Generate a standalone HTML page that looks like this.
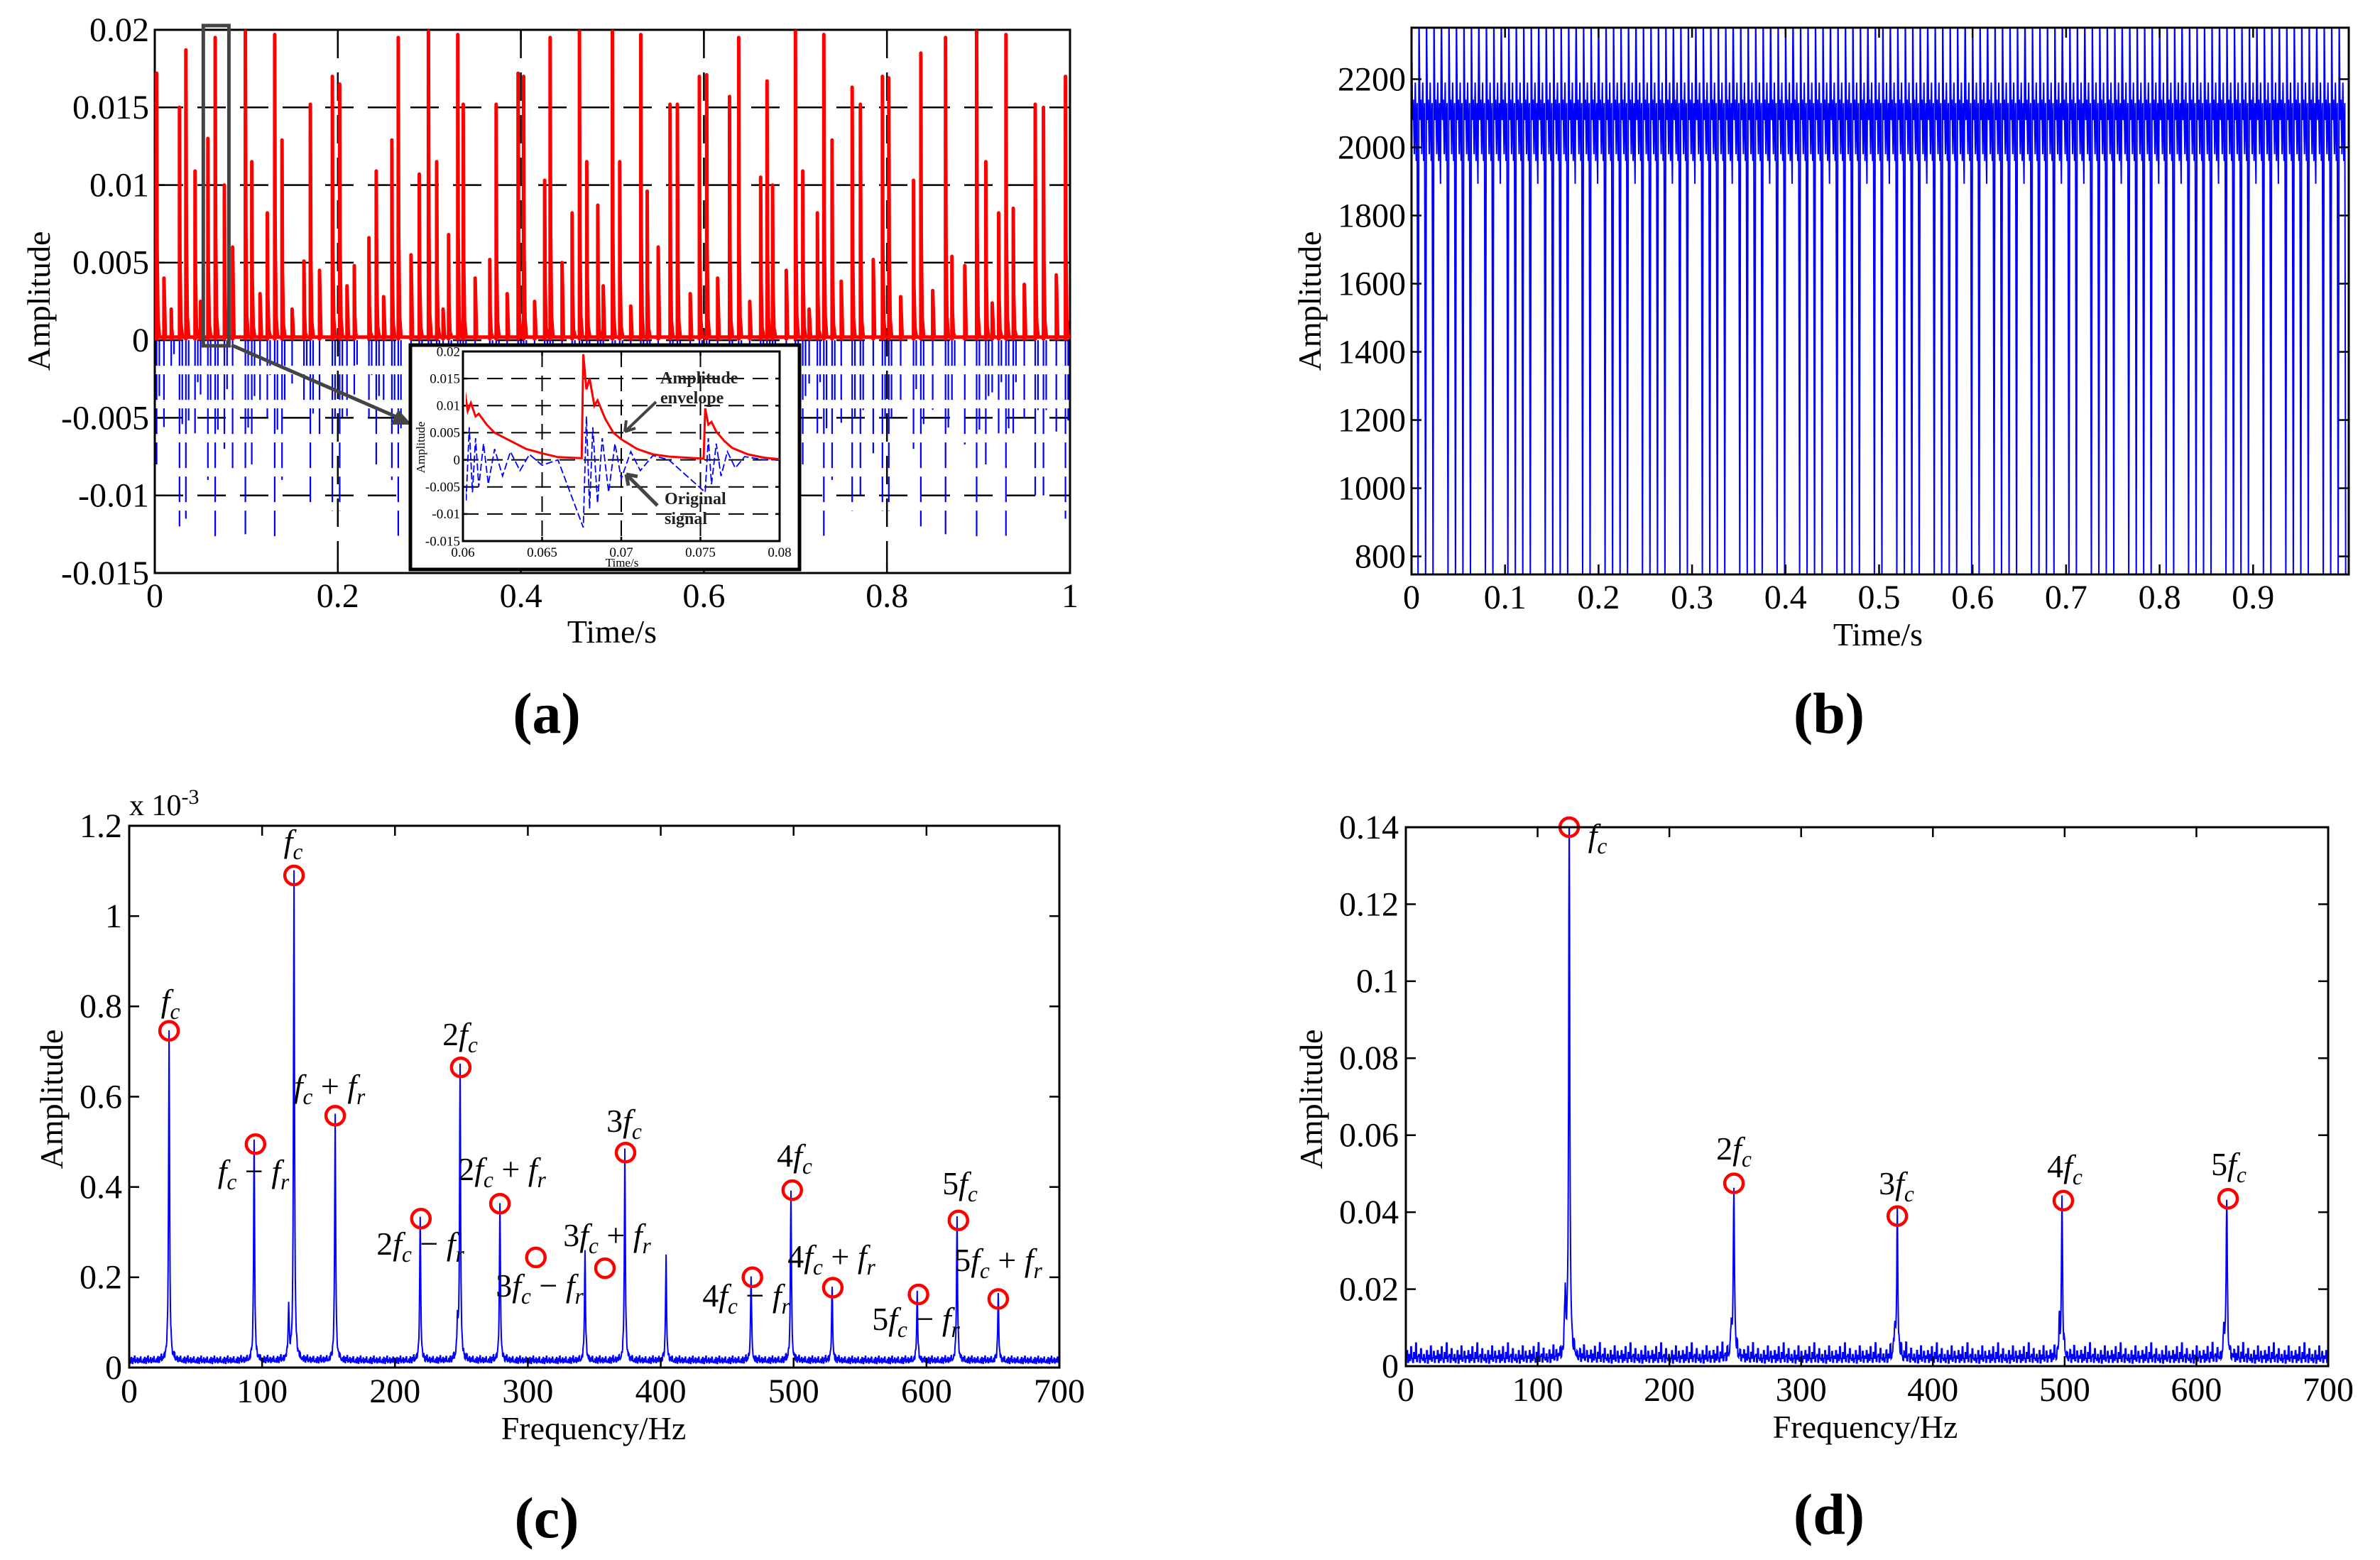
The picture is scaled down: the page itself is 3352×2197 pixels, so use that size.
<!DOCTYPE html>
<html><head><meta charset="utf-8"><title>Signal figure</title>
<style>
html,body{margin:0;padding:0;background:#fff;}
svg{display:block;font-family:"Liberation Serif","DejaVu Serif",serif;}
</style></head>
<body>
<svg id="fig" xmlns="http://www.w3.org/2000/svg" width="3352" height="2197" viewBox="0 0 3352 2197">
<rect x="0" y="0" width="3352" height="2197" fill="#fff"/>
<defs>
<clipPath id="clipA"><rect x="218" y="42" width="1289" height="765"/></clipPath>
<clipPath id="clipB"><rect x="1988" y="39" width="1320" height="770"/></clipPath>
<clipPath id="clipC"><rect x="182" y="1163" width="1310" height="763"/></clipPath>
<clipPath id="clipD"><rect x="1980" y="1165" width="1300" height="759"/></clipPath>
<clipPath id="clipI"><rect x="656" y="495" width="445" height="267"/></clipPath>
</defs>
</svg>
<script>
// ---------- DATA ----------
const aRedT=[0.002,0.018,0.027,0.034,0.044,0.058,0.066,0.076,0.099,0.106,0.123,0.131,0.139,0.163,0.170,0.194,0.202,0.218,0.234,0.242,0.259,0.266,0.289,0.299,0.308,0.321,0.331,0.337,0.366,0.373,0.397,0.403,0.426,0.432,0.456,0.464,0.472,0.484,0.500,0.508,0.531,0.538,0.563,0.571,0.595,0.603,0.628,0.638,0.662,0.669,0.675,0.700,0.708,0.724,0.731,0.740,0.762,0.771,0.795,0.802,0.829,0.837,0.864,0.871,0.898,0.908,0.922,0.930,0.938,0.962,0.971,0.995];
const aRedH=[0.0172,0.002,0.015,0.0187,0.0109,0.013,0.0195,0.010,0.0199,0.0115,0.0082,0.0197,0.0129,0.0051,0.0152,0.017,0.0165,0.0048,0.0066,0.0109,0.0129,0.0195,0.0107,0.0199,0.0115,0.0068,0.0197,0.0152,0.0052,0.0152,0.0172,0.017,0.0103,0.0195,0.0082,0.0199,0.0115,0.0087,0.0199,0.0115,0.0197,0.0096,0.0152,0.0152,0.017,0.0171,0.0157,0.0195,0.0105,0.0167,0.010,0.0199,0.0109,0.0082,0.0197,0.0129,0.0163,0.0152,0.017,0.0169,0.0103,0.0185,0.0195,0.0054,0.0199,0.0115,0.0082,0.0197,0.0085,0.0152,0.015,0.017];
const aBlueD=[-0.008,-0.002,-0.012,-0.0115,-0.006,-0.009,-0.0128,-0.007,-0.0125,-0.008,-0.005,-0.0128,-0.009,-0.004,-0.0105,-0.011,-0.011,-0.0035,-0.005,-0.008,-0.009,-0.0126,-0.007,-0.0128,-0.008,-0.005,-0.0126,-0.010,-0.004,-0.010,-0.0115,-0.011,-0.007,-0.0125,-0.006,-0.0128,-0.008,-0.006,-0.0125,-0.008,-0.0126,-0.007,-0.010,-0.010,-0.011,-0.011,-0.010,-0.0125,-0.007,-0.011,-0.007,-0.0128,-0.008,-0.006,-0.0126,-0.009,-0.011,-0.010,-0.011,-0.011,-0.007,-0.012,-0.0125,-0.004,-0.0128,-0.008,-0.006,-0.0126,-0.006,-0.010,-0.010,-0.0115];
const aMinorT=[0.01,0.05,0.085,0.115,0.15,0.18,0.21,0.25,0.28,0.315,0.35,0.385,0.415,0.445,0.49,0.52,0.55,0.585,0.615,0.65,0.69,0.715,0.75,0.785,0.815,0.85,0.885,0.915,0.95,0.985];
const aMinorH=[0.004,0.0025,0.006,0.003,0.002,0.0045,0.0035,0.0028,0.0055,0.002,0.004,0.003,0.0025,0.005,0.0035,0.0022,0.006,0.003,0.004,0.0025,0.0045,0.002,0.0038,0.0052,0.0028,0.0032,0.0048,0.0024,0.0036,0.0042];
const aXTicks=[0,0.2,0.4,0.6,0.8,1];
const aXTickLabels=["0","0.2","0.4","0.6","0.8","1"];
const aYTicks=[-0.015,-0.01,-0.005,0,0.005,0.01,0.015,0.02];
const aYTickLabels=["-0.015","-0.01","-0.005","0","0.005","0.01","0.015","0.02"];
const iRedT=[0.0600,0.0601,0.0603,0.0605,0.0608,0.0610,0.0615,0.0620,0.0630,0.0640,0.0650,0.0660,0.0675,0.0676,0.0678,0.0680,0.0683,0.0685,0.0690,0.0695,0.0700,0.0710,0.0720,0.0730,0.0752,0.0753,0.0755,0.0757,0.0760,0.0765,0.0770,0.0780,0.0790,0.0800];
const iRedV=[0.0,0.013,0.009,0.0105,0.008,0.0085,0.0065,0.0050,0.0035,0.0020,0.0012,0.0005,0.0003,0.0195,0.013,0.0150,0.010,0.0110,0.0075,0.0050,0.0038,0.0020,0.0010,0.0006,0.0002,0.0095,0.0065,0.0070,0.0052,0.0035,0.0022,0.0010,0.0004,0.0001];
const iBlueT=[0.0600,0.0602,0.0604,0.0606,0.0608,0.0610,0.0613,0.0616,0.0620,0.0625,0.0630,0.0636,0.0642,0.0650,0.0660,0.0676,0.0678,0.0680,0.0682,0.0685,0.0688,0.0692,0.0696,0.0700,0.0706,0.0712,0.0720,0.0730,0.0753,0.0755,0.0757,0.0760,0.0763,0.0767,0.0772,0.0778,0.0790,0.0800];
const iBlueV=[0.0,-0.0075,0.006,-0.006,0.004,-0.005,0.003,-0.0045,0.002,-0.003,0.0015,-0.002,0.001,-0.001,0.0,-0.0125,0.008,-0.009,0.006,-0.008,0.004,-0.006,0.003,-0.0035,0.0015,-0.002,0.0008,0.0,-0.006,0.004,-0.0045,0.003,-0.003,0.0015,-0.0015,0.0006,0.0,0.0];
const iXTicks=[0.06,0.065,0.07,0.075,0.08];
const iXTickLabels=["0.06","0.065","0.07","0.075","0.08"];
const iYTicks=[-0.015,-0.01,-0.005,0,0.005,0.01,0.015,0.02];
const iYTickLabels=["-0.015","-0.01","-0.005","0","0.005","0.01","0.015","0.02"];
const bPattern=[2400,2080,2140,1980,2190,1960,2130,700];
const bLows=[700,700,700,1893,700,700,700,700,1893,700,700,1893,700];
const bCycles=125;
const bXTicks=[0,0.1,0.2,0.3,0.4,0.5,0.6,0.7,0.8,0.9];
const bXTickLabels=["0","0.1","0.2","0.3","0.4","0.5","0.6","0.7","0.8","0.9"];
const bYTicks=[800,1000,1200,1400,1600,1800,2000,2200];
const bYTickLabels=["800","1000","1200","1400","1600","1800","2000","2200"];
const cPeakF=[30,94,124,155,219,249,279,343,373,404,468,498,529,593,623,654,120,247];
const cPeakA=[0.735,0.48,1.075,0.545,0.32,0.655,0.35,0.24,0.465,0.225,0.19,0.38,0.165,0.15,0.315,0.14,0.12,0.08];
const cNoise=[0.012,0.018,0.010,0.022,0.015,0.009,0.020,0.014,0.025,0.011,0.017,0.013,0.021,0.010,0.016,0.019,0.012,0.023,0.014,0.011];
const cCircF=[30,95,124,155,219.5,249.5,279,306,358,373.5,469,499,529.5,594,624,654];
const cCircA=[0.746,0.495,1.09,0.558,0.33,0.665,0.363,0.244,0.22,0.476,0.2,0.393,0.177,0.162,0.326,0.152];
const cXTicks=[0,100,200,300,400,500,600,700];
const cXTickLabels=["0","100","200","300","400","500","600","700"];
const cYTicks=[0,0.2,0.4,0.6,0.8,1,1.2];
const cYTickLabels=["0","0.2","0.4","0.6","0.8","1","1.2"];
const dPeakF=[124,249,373,498,623,121,247,371,496,621];
const dPeakA=[0.138,0.045,0.037,0.041,0.041,0.016,0.009,0.008,0.006,0.007];
const dNoise=[0.002,0.004,0.001,0.003,0.0015,0.005,0.002,0.001,0.0035,0.002,0.006,0.0012,0.0025,0.003,0.001,0.0045,0.002,0.0015,0.003,0.001,0.002,0.004,0.0008,0.0028,0.0018,0.0052,0.0013,0.0022,0.0038,0.001,0.0026];
const dCircF=[124,249,373,499,624];
const dCircA=[0.14,0.0475,0.039,0.043,0.0435];
const dXTicks=[0,100,200,300,400,500,600,700];
const dXTickLabels=["0","100","200","300","400","500","600","700"];
const dYTicks=[0,0.02,0.04,0.06,0.08,0.1,0.12,0.14];
const dYTickLabels=["0","0.02","0.04","0.06","0.08","0.1","0.12","0.14"];

// ---------- HELPERS ----------
const NS='http://www.w3.org/2000/svg';
const svg=document.getElementById('fig');
function mk(tag,attrs,parent){const e=document.createElementNS(NS,tag);for(const k in attrs)e.setAttribute(k,attrs[k]);(parent||svg).appendChild(e);return e;}
function lin(d0,d1,r0,r1){return v=>r0+(v-d0)/(d1-d0)*(r1-r0);}
function r1(v){return Math.round(v*10)/10;}

function drawAxes(P,sx,sy,xt,xl,yt,yl,fs,tickLen,xOff,yOff,grid,name){
  const g=mk('g',{});
  
  
  if(grid){
    xt.forEach(v=>{const x=sx(v);if(x>P.L+2&&x<P.R-2){const l=mk('line',{x1:x,y1:P.T,x2:x,y2:P.B,stroke:'#000','stroke-width':grid.w,'stroke-dasharray':grid.d},g);
      
      }});
    yt.forEach(v=>{const y=sy(v);if(y>P.T+2&&y<P.B-2){const l=mk('line',{x1:P.L,y1:y,x2:P.R,y2:y,stroke:'#000','stroke-width':grid.w,'stroke-dasharray':grid.d},g);
      
      }});
  }
  xt.forEach((v,i)=>{const x=sx(v);
    const t1=mk('line',{x1:x,y1:P.B,x2:x,y2:P.B-tickLen,stroke:'#000','stroke-width':2.5},g);
    
    
    const t2=mk('line',{x1:x,y1:P.T,x2:x,y2:P.T+tickLen,stroke:'#000','stroke-width':2.5},g);
    
    
    const tx=mk('text',{x:x,y:P.B+xOff,'font-size':fs,'text-anchor':'middle',fill:'#000'},g);
    tx.textContent=xl[i];
    
    
  });
  yt.forEach((v,i)=>{const y=sy(v);
    const t1=mk('line',{x1:P.L,y1:y,x2:P.L+tickLen,y2:y,stroke:'#000','stroke-width':2.5},g);
    
    
    const t2=mk('line',{x1:P.R,y1:y,x2:P.R-tickLen,y2:y,stroke:'#000','stroke-width':2.5},g);
    
    
    const tx=mk('text',{x:P.L-yOff,y:y+fs*0.33,'font-size':fs,'text-anchor':'end',fill:'#000'},g);
    tx.textContent=yl[i];
    
    
  });
  const box=mk('rect',{x:P.L,y:P.T,width:P.R-P.L,height:P.B-P.T,fill:'none',stroke:'#000','stroke-width':3},g);
  
  
}
function axisTitle(x,y,txt,rot,name,fs){
  const t=mk('text',{x:x,y:y,'font-size':fs||46,'text-anchor':'middle',fill:'#000',transform:rot?('rotate(-90 '+x+' '+y+')'):''});
  t.textContent=txt;
  
  
  return t;
}
function panelLabel(x,y,letter){
  const t=mk('text',{x:x,y:y,'font-size':82,'font-weight':'bold','text-anchor':'middle',fill:'#000'});
  t.textContent='('+letter+')';
  
  
}
function mathLabel(x,y,spec,name,fs){
  fs=fs||46;
  const t=mk('text',{x:x,y:y,'font-size':fs,'text-anchor':'middle',fill:'#000'});
  
  
  let i=0,pendingUp=false;
  while(i<spec.length){
    const ch=spec[i];
    if(ch==='_'){
      const s=mk('tspan',{'font-style':'italic','font-size':fs*0.68,dy:fs*0.22},t);s.textContent=spec[i+1];i+=2;pendingUp=true;continue;
    }
    const s=mk('tspan',{},t);
    if(pendingUp){s.setAttribute('dy',-fs*0.22);pendingUp=false;}
    if(ch==='f'){s.setAttribute('font-style','italic');}
    s.textContent=ch===' '?'\u00a0':ch;i++;
  }
  return t;
}
function lorentz(freqs,amps,w,f){let s=0;for(let k=0;k<freqs.length;k++){const d=f-freqs[k];s+=amps[k]*w*w/(d*d+w*w);}return s;}

// ---------- PANEL A ----------
(function(){
  const P={L:218,R:1507,T:42,B:807};
  const sx=lin(0,1,P.L,P.R), sy=lin(-0.015,0.02,P.B,P.T);
  drawAxes(P,sx,sy,aXTicks,aXTickLabels,aYTicks,aYTickLabels,48,14,48,8,{w:2.5,d:'40,20'},'panel-a');
  const g=mk('g',{'clip-path':'url(#clipA)'});
  
  
  let bd='';
  aRedT.forEach((t,i)=>{bd+='M'+r1(sx(t))+' '+r1(sy(0))+'V'+r1(sy(aBlueD[i]))+'M'+r1(sx(t+0.003))+' '+r1(sy(0))+'V'+r1(sy(aBlueD[i]*0.45));});
  aMinorT.forEach((t,i)=>{bd+='M'+r1(sx(t))+' '+r1(sy(0))+'V'+r1(sy(-aMinorH[i]*1.4));});
  const blue=mk('path',{d:bd,stroke:'#0000ff','stroke-width':2.2,fill:'none','stroke-dasharray':'36,12'},g);
  
  
  let rd='M'+P.L+' '+r1(sy(0.0002))+'H'+P.R;
  aRedT.forEach((t,i)=>{const h=aRedH[i];
    rd+='M'+r1(sx(t))+' '+r1(sy(0))+'V'+r1(sy(h))+'L'+r1(sx(t+0.0005))+' '+r1(sy(h*0.35))+'L'+r1(sx(t+0.0015))+' '+r1(sy(h*0.08))+'L'+r1(sx(t+0.003))+' '+r1(sy(0.0003));});
  aMinorT.forEach((t,i)=>{rd+='M'+r1(sx(t))+' '+r1(sy(0))+'V'+r1(sy(aMinorH[i]))+'L'+r1(sx(t+0.0015))+' '+r1(sy(0.0003));});
  const red=mk('path',{d:rd,stroke:'#ff0000','stroke-width':5,fill:'none','stroke-linejoin':'round'},g);
  
  
  const zr=mk('rect',{x:sx(0.053),y:36,width:sx(0.081)-sx(0.053),height:451,fill:'none',stroke:'#444','stroke-width':5});
  
  
  const ar=mk('line',{x1:326,y1:486,x2:565,y2:590,stroke:'#444','stroke-width':5});
  
  
  const ah=mk('polygon',{points:'580,598 550,598 561,577',fill:'#444'});
  
  
  const ib=mk('rect',{x:578,y:486,width:548,height:316,fill:'#fff',stroke:'#000','stroke-width':5});
  
  
  const Q={L:652,R:1098,T:495,B:762};
  const ix=lin(0.06,0.08,Q.L,Q.R), iy=lin(-0.015,0.02,Q.B,Q.T);
  drawAxes(Q,ix,iy,iXTicks,iXTickLabels,iYTicks,iYTickLabels,19,6,22,4,{w:2,d:'22,12'},'inset');
  const gi=mk('g',{'clip-path':'url(#clipI)'});
  
  
  const ipb=mk('polyline',{points:iBlueT.map((t,i)=>r1(ix(t))+','+r1(iy(iBlueV[i]))).join(' '),fill:'none',stroke:'#0000ff','stroke-width':1.8,'stroke-dasharray':'10,4'},gi);
  
  
  const ipr=mk('polyline',{points:iRedT.map((t,i)=>r1(ix(t))+','+r1(iy(iRedV[i]))).join(' '),fill:'none',stroke:'#ff0000','stroke-width':3},gi);
  
  
  axisTitle(598,630,'Amplitude',true,'inset-y-axis-title',17);
  axisTitle(876,798,'Time/s',false,'inset-x-axis-title',17);
  const n1=mk('text',{x:930,y:540,'font-size':24,'font-weight':'bold',fill:'#222'});n1.textContent='Amplitude';
  
  
  const n2=mk('text',{x:930,y:568,'font-size':24,'font-weight':'bold',fill:'#222'});n2.textContent='envelope';
  
  
  const n3=mk('text',{x:936,y:710,'font-size':24,'font-weight':'bold',fill:'#222'});n3.textContent='Original';
  
  
  const n4=mk('text',{x:936,y:738,'font-size':24,'font-weight':'bold',fill:'#222'});n4.textContent='signal';
  
  
  const a1=mk('path',{d:'M924 566L880 608M880 608l2 -16M880 608l15 -5',stroke:'#444','stroke-width':4,fill:'none'});
  
  
  const a2=mk('path',{d:'M926 712L882 668M882 668l3 16M882 668l16 3',stroke:'#444','stroke-width':5,fill:'none'});
  
  
  axisTitle(70,424,'Amplitude',true,'panel-a-y-axis-title');
  axisTitle(862,905,'Time/s',false,'panel-a-x-axis-title');
  panelLabel(770,1032,'a');
})();

// ---------- PANEL B ----------
(function(){
  const P={L:1988,R:3308,T:39,B:809};
  const sx=lin(0,1,P.L,3305), sy=lin(747,2351,P.B,P.T);
  const g=mk('g',{'clip-path':'url(#clipB)'});
  
  
  const pts=[];
  for(let c=0;c<bCycles;c++){
    for(let j=0;j<bPattern.length;j++){
      const v=(j===bPattern.length-1)?bLows[c%bLows.length]:bPattern[j];
      const t=(c*bPattern.length+j)/(bCycles*bPattern.length);
      pts.push(r1(sx(t))+','+r1(sy(v)));
    }
  }
  const pl=mk('polyline',{points:pts.join(' '),fill:'none',stroke:'#0000ff','stroke-width':2},g);
  
  
  drawAxes(P,sx,sy,bXTicks,bXTickLabels,bYTicks,bYTickLabels,48,14,48,8,null,'panel-b');
  axisTitle(1860,424,'Amplitude',true,'panel-b-y-axis-title');
  axisTitle(2645,909,'Time/s',false,'panel-b-x-axis-title');
  panelLabel(2576,1032,'b');
})();

// ---------- PANEL C ----------
(function(){
  const P={L:182,R:1492,T:1163,B:1926};
  const sx=lin(0,700,P.L,P.R), sy=lin(0,1.2,P.B,P.T);
  const g=mk('g',{'clip-path':'url(#clipC)'});
  
  
  const pts=[];
  for(let i=0;i<=2800;i++){const f=i*0.25;const v=cNoise[Math.floor(i/2)%cNoise.length]+lorentz(cPeakF,cPeakA,0.45,f);pts.push(r1(sx(f))+','+r1(sy(v)));}
  const pl=mk('polyline',{points:pts.join(' '),fill:'none',stroke:'#0000ff','stroke-width':2},g);
  
  
  cCircF.forEach((f,i)=>{const c=mk('circle',{cx:r1(sx(f)),cy:r1(sy(cCircA[i])),r:13,fill:'none',stroke:'#ff0000','stroke-width':4.5});
    
    });
  drawAxes(P,sx,sy,cXTicks,cXTickLabels,cYTicks,cYTickLabels,48,14,49,10,null,'panel-c');
  const ex=mk('text',{x:182,y:1148,'font-size':42,fill:'#000'});
  
  
  ex.textContent='x 10';
  const es=mk('tspan',{'font-size':30,dy:-16},ex);es.textContent='-3';
  mathLabel(240,1425,'f_c','label-fc-30');
  mathLabel(413,1200,'f_c','label-fc-124');
  mathLabel(357,1665,'f_c − f_r','label-fc-minus-fr');
  mathLabel(464,1545,'f_c + f_r','label-fc-plus-fr');
  mathLabel(648,1472,'2f_c','label-2fc');
  mathLabel(592,1767,'2f_c − f_r','label-2fc-minus-fr');
  mathLabel(707,1662,'2f_c + f_r','label-2fc-plus-fr');
  mathLabel(760,1826,'3f_c − f_r','label-3fc-minus-fr');
  mathLabel(855,1755,'3f_c + f_r','label-3fc-plus-fr');
  mathLabel(879,1594,'3f_c','label-3fc');
  mathLabel(1119,1643,'4f_c','label-4fc');
  mathLabel(1051,1840,'4f_c − f_r','label-4fc-minus-fr');
  mathLabel(1171,1785,'4f_c + f_r','label-4fc-plus-fr');
  mathLabel(1352,1682,'5f_c','label-5fc');
  mathLabel(1290,1873,'5f_c − f_r','label-5fc-minus-fr');
  mathLabel(1406,1790,'5f_c + f_r','label-5fc-plus-fr');
  axisTitle(88,1548,'Amplitude',true,'panel-c-y-axis-title');
  axisTitle(836,2027,'Frequency/Hz',false,'panel-c-x-axis-title');
  panelLabel(770,2165,'c');
})();

// ---------- PANEL D ----------
(function(){
  const P={L:1980,R:3279,T:1165,B:1924};
  const sx=lin(0,700,P.L,P.R), sy=lin(0,0.14,P.B,P.T);
  const g=mk('g',{'clip-path':'url(#clipD)'});
  
  
  const pts=[];
  for(let i=0;i<=2800;i++){const f=i*0.25;const v=dNoise[Math.floor(i/3)%dNoise.length]+lorentz(dPeakF,dPeakA,0.5,f);pts.push(r1(sx(f))+','+r1(sy(v)));}
  const pl=mk('polyline',{points:pts.join(' '),fill:'none',stroke:'#0000ff','stroke-width':2},g);
  
  
  dCircF.forEach((f,i)=>{const c=mk('circle',{cx:r1(sx(f)),cy:r1(sy(dCircA[i])),r:13,fill:'none',stroke:'#ff0000','stroke-width':4.5});
    
    });
  drawAxes(P,sx,sy,dXTicks,dXTickLabels,dYTicks,dYTickLabels,48,14,49,10,null,'panel-d');
  mathLabel(2250,1192,'f_c','label-fc');
  mathLabel(2442,1633,'2f_c','label-2fc');
  mathLabel(2671,1682,'3f_c','label-3fc');
  mathLabel(2908,1658,'4f_c','label-4fc');
  mathLabel(3139,1655,'5f_c','label-5fc');
  axisTitle(1862,1548,'Amplitude',true,'panel-d-y-axis-title');
  axisTitle(2627,2025,'Frequency/Hz',false,'panel-d-x-axis-title');
  panelLabel(2576,2160,'d');
})();
</script>
</body></html>
